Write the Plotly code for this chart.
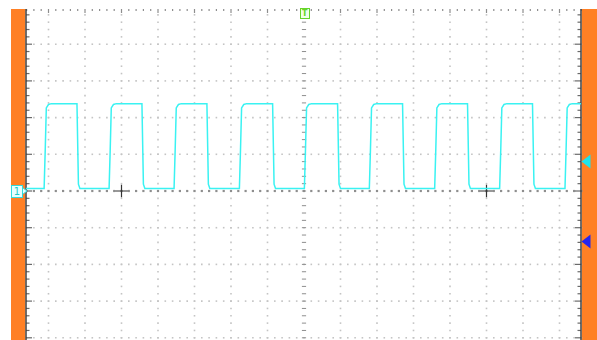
import numpy as np
import plotly.graph_objects as go

# ---- data (in screen divisions; centre of graticule = 0,0) ----
rise_t = [-7.12, -5.34, -3.56, -1.77, 0.01, 1.79, 3.58, 5.36, 7.15]
fall_t = [-6.22, -4.44, -2.66, -0.86, 0.92, 2.70, 4.48, 6.26]
high_level = 2.38
low_level = 0.07
# shape of the edges (time offset, fraction of swing)
rise_profile_dt = [0.0, 0.03, 0.06, 0.12, 0.20]
rise_profile_fr = [0.0, 0.45, 0.95, 0.99, 1.0]
fall_profile_dt = [0.0, 0.04, 0.08]
fall_profile_fr = [1.0, 0.05, 0.0]

# ---- screen geometry ----
W, H = 597, 340
PXX, PXY = 36.5, 36.7
CX, CY = 304, 191


def dx(px):
    return (px - CX) / PXX


def dy(py):
    return (CY - py) / PXY


x_left, x_right = dx(26), dx(581)
y_top = dy(9)
y_bot = dy(H)

# build waveform
xs = [x_left]
ys = [low_level]
swing = high_level - low_level
events = sorted([(t, "r") for t in rise_t] + [(t, "f") for t in fall_t])
for t, kind in events:
    if kind == "r":
        for d, f in zip(rise_profile_dt, rise_profile_fr):
            xs.append(t + d)
            ys.append(low_level + f * swing)
    else:
        for d, f in zip(fall_profile_dt, fall_profile_fr):
            xs.append(t + d)
            ys.append(low_level + f * swing)
xs.append(x_right)
ys.append(ys[-1])

fig = go.Figure()

# ---- graticule dots ----
minor = 0.2
gx, gy = [], []
for k in range(-7, 8):
    if k == 0:
        continue
    for yv in np.arange(-4.2, 4.81, minor):
        gx.append(k)
        gy.append(yv)
for k in range(-4, 5):
    if k == 0:
        continue
    for xv in np.arange(-7.6, 7.61, minor):
        gx.append(xv)
        gy.append(k)
fig.add_trace(go.Scatter(x=gx, y=gy, mode="markers", hoverinfo="skip",
                         marker=dict(symbol="square", size=1.6, color="#c4c4c4",
                                     line=dict(width=0))))

# centre horizontal axis dots
cx_ = list(np.arange(-7.6, 7.61, minor))
fig.add_trace(go.Scatter(x=cx_, y=[0] * len(cx_), mode="markers", hoverinfo="skip",
                         marker=dict(symbol="square", size=2.2, color="#8e8e8e",
                                     line=dict(width=0))))
# centre vertical axis dashes
cy_ = list(np.arange(-4.2, 4.81, minor))
fig.add_trace(go.Scatter(x=[0] * len(cy_), y=cy_, mode="markers", hoverinfo="skip",
                         marker=dict(symbol="line-ew", size=3,
                                     line=dict(width=1, color="#8e8e8e"))))


def tick_segments(positions, fixed, length_fn, orient):
    X, Y = [], []
    for p in positions:
        L = length_fn(p)
        if orient == "h":
            X += [fixed, fixed + L, None]
            Y += [p, p, None]
        else:
            X += [p, p, None]
            Y += [fixed, fixed - L, None]
    return X, Y


def is_major(v):
    return abs(v - round(v)) < 1e-6


ypos = list(np.arange(-4.2, 4.81, minor))
xpos = list(np.arange(-7.6, 7.61, minor))

# left border ticks
X, Y = tick_segments(ypos, x_left, lambda v: dx(32) - dx(26) if is_major(v) else dx(29.5) - dx(26), "h")
fig.add_trace(go.Scatter(x=X, y=Y, mode="lines", hoverinfo="skip",
                         line=dict(color="#6a6a6a", width=1.2)))
# right border ticks
X, Y = tick_segments(ypos, x_right, lambda v: -(dx(32) - dx(26)) if is_major(v) else -(dx(29.5) - dx(26)), "h")
fig.add_trace(go.Scatter(x=X, y=Y, mode="lines", hoverinfo="skip",
                         line=dict(color="#6a6a6a", width=1.2)))
# top border ticks
X, Y = tick_segments(xpos, y_top, lambda v: dy(9) - dy(13) if is_major(v) else dy(9) - dy(11), "v")
fig.add_trace(go.Scatter(x=X, y=Y, mode="lines", hoverinfo="skip",
                         line=dict(color="#8e8e8e", width=1.2)))

# borders
fig.add_trace(go.Scatter(x=[x_left, x_left], y=[y_top, y_bot], mode="lines", hoverinfo="skip",
                         line=dict(color="#404040", width=1.5)))
fig.add_trace(go.Scatter(x=[x_right, x_right], y=[y_top, y_bot], mode="lines", hoverinfo="skip",
                         line=dict(color="#404040", width=1.5)))

# cursor crosses
fig.add_trace(go.Scatter(x=[-5, 5], y=[0, 0], mode="markers", hoverinfo="skip",
                         marker=dict(symbol="cross-thin", size=9,
                                     line=dict(width=1.2, color="#333333"))))

# waveform
fig.add_trace(go.Scatter(x=xs, y=ys, mode="lines", hoverinfo="skip",
                         line=dict(color="#3af2f2", width=1.5)))

# right side level markers
fig.add_trace(go.Scatter(x=[dx(587.5)], y=[dy(161.5)], mode="markers", hoverinfo="skip",
                         marker=dict(symbol="triangle-left", size=12, color="#1fe3ea",
                                     line=dict(width=0))))
fig.add_trace(go.Scatter(x=[dx(587.5)], y=[dy(241.5)], mode="markers", hoverinfo="skip",
                         marker=dict(symbol="triangle-left", size=12, color="#2525ee",
                                     line=dict(width=0))))
# channel 1 marker tip
fig.add_trace(go.Scatter(x=[dx(23)], y=[0], mode="markers", hoverinfo="skip",
                         marker=dict(symbol="triangle-right", size=8, color="#e6ffff",
                                     line=dict(width=1, color="#30dcdc"))))

# orange side bars
fig.add_shape(type="rect", xref="x", yref="y", x0=dx(11), x1=dx(25.3), y0=y_bot, y1=y_top,
              fillcolor="#ff8025", line=dict(width=0), layer="below")
fig.add_shape(type="rect", xref="x", yref="y", x0=dx(581.8), x1=dx(598), y0=y_bot, y1=y_top,
              fillcolor="#ff8025", line=dict(width=0), layer="below")

# annotations
fig.add_annotation(x=dx(16.5), y=0, text="1", showarrow=False,
                   font=dict(family="DejaVu Sans", size=10, color="#20c8c8"),
                   bgcolor="#e6ffff", bordercolor="#30dcdc", borderwidth=1, borderpad=0,
                   width=10, height=11)
fig.add_annotation(x=dx(305), y=dy(13.5), text="<b>T</b>", showarrow=False,
                   font=dict(family="DejaVu Sans", size=8, color="#66d42a"),
                   bgcolor="#f0ffe8", bordercolor="#66d42a", borderwidth=1, borderpad=0,
                   width=8, height=9)

fig.update_layout(
    width=W, height=H, margin=dict(l=0, r=0, t=0, b=0),
    paper_bgcolor="white", plot_bgcolor="white", showlegend=False,
    xaxis=dict(range=[dx(0), dx(W)], visible=False, fixedrange=True),
    yaxis=dict(range=[dy(H), dy(0)], visible=False, fixedrange=True),
)
fig.write_html("out.html", config={"displayModeBar": False},
               post_script="document.body.style.margin='0';document.body.style.overflow='hidden';")
